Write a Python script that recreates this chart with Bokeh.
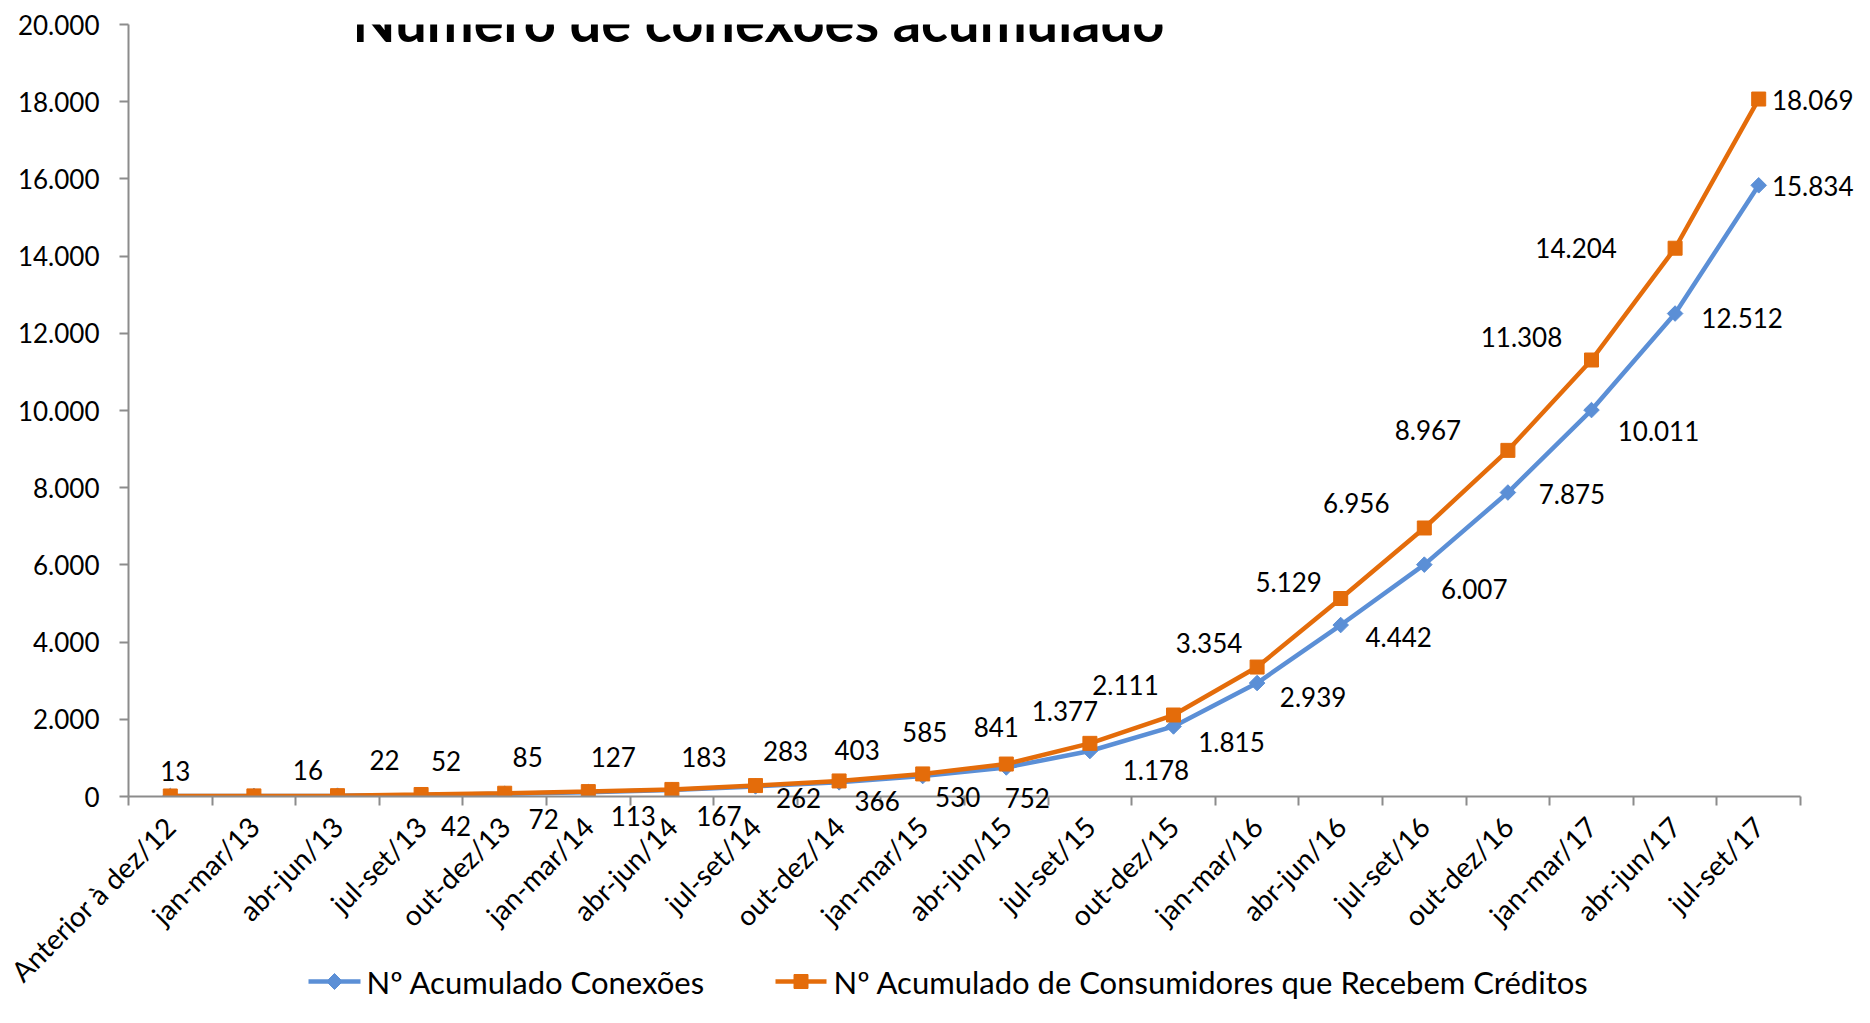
from math import pi
from bokeh.plotting import figure
from bokeh.models import Range1d, FixedTicker, Label, ColumnDataSource
from bokeh.core.properties import value
from bokeh.embed import file_html
from bokeh.resources import INLINE

# ---------------- data ----------------
CATEGORIES = ["Anterior à dez/12", "jan-mar/13", "abr-jun/13", "jul-set/13", "out-dez/13",
              "jan-mar/14", "abr-jun/14", "jul-set/14", "out-dez/14", "jan-mar/15",
              "abr-jun/15", "jul-set/15", "out-dez/15", "jan-mar/16", "abr-jun/16",
              "jul-set/16", "out-dez/16", "jan-mar/17", "abr-jun/17", "jul-set/17"]
CONEXOES = [13, 16, 22, 42, 72, 113, 167, 262, 366, 530, 752, 1178, 1815, 2939,
            4442, 6007, 7875, 10011, 12512, 15834]
CONEXOES_LABELED = [False, False, False] + [True] * 17
CONSUMIDORES = [13, 16, 22, 52, 85, 127, 183, 283, 403, 585, 841, 1377, 2111, 3354,
                5129, 6956, 8967, 11308, 14204, 18069]
Y_MAX = 20000
Y_TICKS = list(range(0, Y_MAX + 1, 2000))
TITLE = "Número de conexões acumulado"
SERIES_NAMES = ["Nº Acumulado Conexões", "Nº Acumulado de Consumidores que Recebem Créditos"]

# ---------------- label placement (screen px, +y = down) ----------------
ORANGE_DX = [5, 54, 47, 25, 23, 25, 32, 30, 18, 2, -10, -25, -48, -48, -52, -68, -80, -70, -99, 54]
ORANGE_DY = [-25, -26, -36, -33, -36, -35, -32, -35, -31, -42, -37, -32, -30, -24, -17, -25, -20, -23, 0, 1]
BLUE_DX = [0, 0, 0, 35, 39, 45, 47, 43, 38, 35, 21, 66, 58, 56, 58, 50, 64, 67, 67, 54]
BLUE_DY = [0, 0, 0, 31, 25, 24, 26, 12, 19, 21, 31, 19, 16, 14, 12, 24, 1, 21, 4, 1]

BLUE = "#5B8FD6"
ORANGE = "#E46C0A"
AXIS = "#8C8C8C"
FONT = "Lato"

# canvas / frame geometry (px)
W, H = 1854, 1007
FL, FR, FT, FB = 128, 1800, 24, 796


def fmt(v):
    return f"{v:,}".replace(",", ".")


xs = [i + 0.5 for i in range(len(CATEGORIES))]

p = figure(width=W, height=H, x_range=Range1d(0, len(CATEGORIES)),
           y_range=Range1d(0, Y_MAX), output_backend="svg", toolbar_location=None,
           title=None, min_border_left=FL, min_border_right=W - FR, min_border_top=FT,
           min_border_bottom=H - FB, outline_line_color=None)
p.xgrid.visible = False
p.ygrid.visible = False

# x axis (tick marks between categories, labels at centres)
xa = p.xaxis[0]
xa.ticker = FixedTicker(ticks=xs, minor_ticks=list(range(len(CATEGORIES) + 1)))
xa.major_label_overrides = {x: c for x, c in zip(xs, CATEGORIES)}
xa.major_tick_out = 0
xa.major_tick_in = 0
xa.minor_tick_out = 9
xa.minor_tick_in = 0
xa.minor_tick_line_color = AXIS
xa.minor_tick_line_width = 2
xa.axis_line_color = AXIS
xa.axis_line_width = 2
xa.major_label_orientation = pi / 4
xa.major_label_standoff = 16
xa.major_label_text_font = FONT
xa.major_label_text_font_size = "28px"
xa.major_label_text_color = "black"

# y axis
ya = p.yaxis[0]
ya.ticker = FixedTicker(ticks=Y_TICKS, minor_ticks=[])
ya.major_label_overrides = {t: fmt(t) for t in Y_TICKS}
ya.major_tick_out = 9
ya.major_tick_in = 0
ya.major_tick_line_color = AXIS
ya.major_tick_line_width = 2
ya.axis_line_color = AXIS
ya.axis_line_width = 2
ya.major_label_standoff = 20
ya.major_label_text_font = FONT
ya.major_label_text_font_size = "26px"
ya.major_label_text_color = "black"

# series
p.line(xs, CONEXOES, line_color=BLUE, line_width=4.5)
p.scatter(xs, CONEXOES, marker="square", angle=pi / 4, size=11,
          fill_color=BLUE, line_color=BLUE)
p.line(xs, CONSUMIDORES, line_color=ORANGE, line_width=4.5)
p.scatter(xs, CONSUMIDORES, marker="square", size=14,
          fill_color=ORANGE, line_color=ORANGE)

# data labels
bsrc = ColumnDataSource(dict(
    x=[x for x, k in zip(xs, CONEXOES_LABELED) if k],
    y=[v for v, k in zip(CONEXOES, CONEXOES_LABELED) if k],
    t=[fmt(v) for v, k in zip(CONEXOES, CONEXOES_LABELED) if k],
    dx=[d for d, k in zip(BLUE_DX, CONEXOES_LABELED) if k],
    dy=[d for d, k in zip(BLUE_DY, CONEXOES_LABELED) if k]))
osrc = ColumnDataSource(dict(x=xs, y=CONSUMIDORES, t=[fmt(v) for v in CONSUMIDORES],
                             dx=ORANGE_DX, dy=ORANGE_DY))
for src in (bsrc, osrc):
    r = p.text(x="x", y="y", text="t", x_offset="dx", y_offset="dy", source=src,
               text_align="center", text_baseline="middle", text_font=value(FONT),
               text_font_size="26px", text_color="black")
    r.level = "overlay"

# title (partly cut off at the top, as in the reference)
p.add_layout(Label(x=758 - FL, y=FB - 20, x_units="screen", y_units="screen", text=TITLE,
                   text_align="center", text_baseline="alphabetic",
                   text_font=FONT, text_font_size="56px", text_font_style="bold",
                   text_color="black"))


# legend below the axis labels (drawn outside the frame, screen px -> data)
def to_x(sx):
    return (sx - FL) / (FR - FL) * len(CATEGORIES)


def to_y(sy):
    return (FB - sy) / (FB - FT) * Y_MAX


def from_y(y):
    return FB - y / Y_MAX * (FB - FT)


LEG_Y = 981
ANCHOR_Y = 1000  # a point inside the range, from which the legend texts are offset
legend_items = [(308, 360, BLUE, "diamond", 366, SERIES_NAMES[0]),
                (775, 826, ORANGE, "square", 833, SERIES_NAMES[1])]
for x0, x1, col, shape, tx, name in legend_items:
    ln = p.line([to_x(x0), to_x(x1)], [to_y(LEG_Y), to_y(LEG_Y)], line_color=col,
                line_width=4.5)
    ln.level = "overlay"
    cx = (x0 + x1) / 2
    if shape == "diamond":
        pts = [(cx, LEG_Y - 8), (cx + 8, LEG_Y), (cx, LEG_Y + 8), (cx - 8, LEG_Y)]
    else:
        pts = [(cx - 7, LEG_Y - 7), (cx + 7, LEG_Y - 7), (cx + 7, LEG_Y + 7), (cx - 7, LEG_Y + 7)]
    pa = p.patch([to_x(a) for a, b in pts], [to_y(b) for a, b in pts],
                 fill_color=col, line_color=col, line_width=1)
    pa.level = "overlay"
    tr = p.text(x=[to_x(tx)], y=[ANCHOR_Y], text=[name],
                y_offset=LEG_Y - from_y(ANCHOR_Y), text_align="left",
                text_baseline="middle", text_font=value(FONT), text_font_size="31px",
                text_color="black")
    tr.level = "overlay"

open("out.html", "w").write(file_html(p, INLINE))
